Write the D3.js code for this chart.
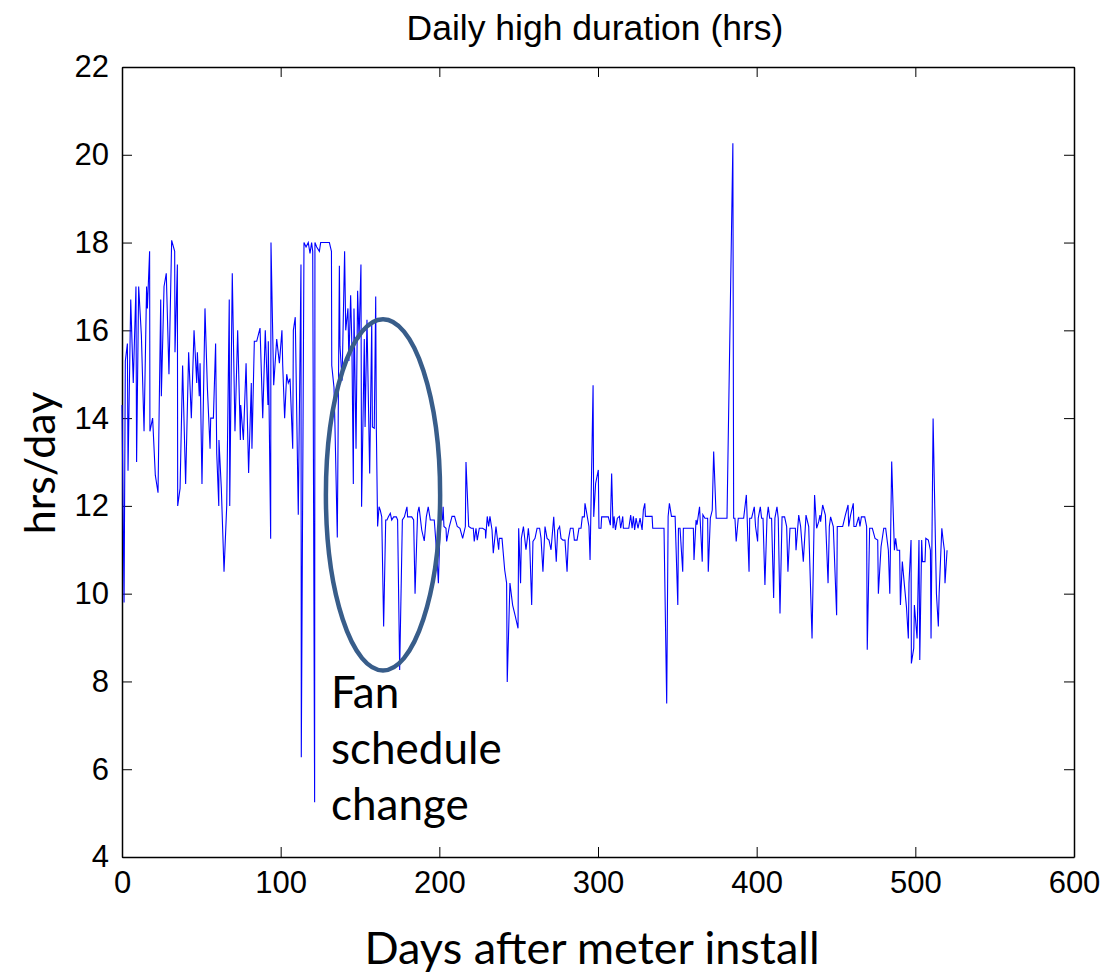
<!DOCTYPE html>
<html>
<head>
<meta charset="utf-8">
<script src="https://cdn.jsdelivr.net/npm/d3@7"></script>
<style>
  html, body { margin: 0; padding: 0; background: #fff; }
  svg { display: block; }
</style>
</head>
<body>
<svg id="chart" width="1107" height="974"></svg>
<script>
// ---- data ----
const days = [
  0,1.3,2.1,3.4,3.8,5.5,7.1,8.8,9.2,10.5,12.2,13.9,15.5,16.0,17.4,17.6,19.3,21.0,22.7,24.4,24.8,26.5,27.9,29.6,31.3,33.2,33.4,34.9,35.1,36.6,38.2,40.1,42.0,43.7,45.4,47.1,47.5,48.7,49.2,50.4,52.3,53.8,55.5,55.9,57.6,59.0,59.7,61.0,61.1,62.6,64.3,66.0,67.6,67.9,69.5,71.2,72.9,74.6,74.8,76.5,78.2,79.8,81.5,81.9,83.4,84.9,87.0,88.7,90.3,92.0,92.2,93.7,93.9,95.6,97.5,99.2,100.8,
  101.3,102.5,103.8,104.8,105.9,107.6,108.0,109.2,111.1,112.8,113.0,114.7,116.0,117.4,118.5,119.5,120.2,121.4,121.6,122.7,124.4,125.2,126.9,129.0,130.7,132.0,132.2,133.6,134.2,135.7,137.0,137.4,138.7,140.3,141.0,142.4,143.0,144.1,144.9,145.8,146.2,147.5,148.5,149.4,150.6,151.0,152.3,152.7,153.2,154.4,156.1,157.4,157.8,159.0,159.9,160.3,161.1,162.0,162.8,163.7,164.9,166.2,167.0,167.9,169.1,170.0,171.2,172.9,173.7,175.0,176.7,178.0,179.6,180.0,182.6,183.8,184.7,186.3,187.2,188.9,190.5,191.8,193.0,194.3,196.8,198.5,199.4,200.6,201.9,
  202.4,202.9,204.2,204.6,206.3,208.0,209.6,211.3,213.0,214.7,216.4,216.8,218.5,220.1,221.4,222.0,223.1,223.9,225.2,227.3,229.0,229.2,230.2,231.1,231.9,233.2,234.0,235.7,237.4,237.8,239.5,241.2,242.4,242.8,244.5,246.2,247.9,249.6,250.0,251.2,251.7,253.0,254.6,255.5,256.1,256.9,258.2,259.0,260.3,261.6,263.2,264.1,265.3,266.6,267.9,269.1,270.4,272.1,273.7,274.6,275.8,276.7,277.9,279.2,280.5,281.3,282.6,284.3,285.1,286.8,288.0,289.3,290.1,291.4,291.8,293.1,294.3,295.0,296.9,297.3,298.5,300.2,300.6,301.9,302.3,305.3,306.5,307.8,308.6,
  309.5,310.1,311.0,312.2,313.5,314.3,315.6,316.0,317.7,319.4,320.6,321.5,322.3,323.1,324.0,325.2,326.5,327.8,328.6,329.5,329.9,332.0,334.1,334.5,337.0,339.5,341.6,343.3,344.2,345.0,346.3,348.6,350.3,350.7,351.7,353.4,353.8,356.0,358.0,360.1,360.5,361.8,362.4,364.0,365.7,366.1,367.4,369.1,369.5,370.8,372.0,372.9,374.5,376.2,377.9,381.3,385.0,385.5,386.3,387.1,388.4,390.1,391.8,393.5,395.2,395.6,396.8,398.5,399.3,400.6,401.0,402.3,403.1,404.0,405.2,406.5,407.3,408.2,409.4,410.7,411.5,412.8,413.6,414.7,
  416.0,417.6,418.9,419.7,421.0,422.7,424.4,424.8,426.5,427.7,429.4,431.1,432.8,434.9,436.5,437.8,439.1,439.9,440.3,441.6,443.3,445.0,445.8,446.6,448.3,450.4,450.8,452.5,454.2,455.9,457.6,458.0,459.2,460.9,461.3,462.6,464.3,465.1,466.0,468.1,469.3,469.7,471.2,472.9,474.6,476.3,476.7,478.4,480.1,481.3,483.0,483.9,485.1,486.8,487.6,488.5,490.1,490.6,491.8,493.1,494.4,495.6,496.0,497.3,497.5,499.0,499.4,501.1,502.3,502.8,504.0,504.5,506.1,506.6,508.2,509.5,509.9,511.2,512.9,513.3,514.5,515.0,516.7,517.5,518.3,518.7,520.0
];
const hours = [
  14.3,9.8,15.3,15.7,12.8,16.7,14.8,17.0,13.0,17.0,15.9,13.7,17.0,16.5,17.8,13.7,14.0,12.7,12.3,16.7,14.5,17.0,17.3,15.0,18.05,17.8,15.5,17.5,12.0,12.4,15.2,12.5,15.5,14.0,16.0,14.8,15.5,14.5,15.25,12.5,16.5,14.7,13.3,14.0,14.0,15.7,13.2,12.0,13.5,12.4,10.5,12.0,16.7,12.0,17.3,13.7,16.0,13.5,14.3,13.5,15.25,12.75,14.8,13.3,15.75,15.75,16.05,14.0,16.0,14.3,15.75,11.25,18.0,14.75,15.8,15.25,16.0,
  15.2,14.0,15.0,14.8,14.9,13.3,16.0,16.3,11.8,17.5,6.27,18.0,17.9,18.0,17.75,18.0,17.8,5.25,18.0,17.9,17.8,18.0,18.0,18.0,18.0,17.8,15.2,14.7,13.85,11.28,17.47,15.64,14.85,17.8,16.0,16.5,15.3,16.8,15.64,12.5,16.5,13.3,16.9,15.8,17.5,11.98,14.87,15.8,13.8,16.24,12.74,16.2,13.8,13.77,16.77,13.77,11.53,11.98,11.9,11.75,9.25,11.68,11.68,11.75,11.83,11.68,11.75,11.75,11.68,8.26,11.68,11.75,11.98,11.75,11.75,11.68,10.0,11.83,11.98,11.45,11.2,11.75,11.98,11.68,11.68,10.85,10.24,11.68,11.68,
  11.98,11.53,11.49,11.19,11.53,11.76,11.76,11.53,11.49,11.26,11.53,13.0,11.53,11.49,11.49,11.19,11.49,11.22,11.49,11.49,11.45,11.26,11.76,11.53,11.76,11.45,10.92,11.53,11.0,11.26,11.26,10.54,10.24,7.99,10.24,9.74,9.48,9.21,11.49,10.24,11.26,11.53,11.0,11.26,11.49,11.19,9.74,11.19,11.26,11.49,11.49,11.26,10.5,11.53,11.26,11.22,11.0,11.75,10.73,11.45,11.53,11.26,11.22,11.22,10.5,11.22,11.49,11.49,11.22,11.22,11.49,11.49,11.75,11.75,12.06,11.79,11.53,10.77,14.75,11.75,12.51,12.82,11.49,11.49,11.75,11.75,11.75,11.56,12.74,
  11.49,11.76,11.45,11.72,11.76,11.49,11.76,11.49,11.49,11.49,11.79,11.49,11.76,11.45,11.72,11.49,11.72,11.45,11.91,12.06,11.76,11.76,11.76,11.49,11.49,11.49,11.49,7.5,11.76,12.06,11.76,11.76,9.74,11.49,11.49,10.5,11.49,11.49,11.49,11.49,10.77,11.68,11.57,11.98,10.73,11.8,11.72,11.72,10.5,11.72,11.9,13.24,11.72,11.72,11.72,11.72,20.26,11.72,11.72,11.19,11.72,11.72,11.72,12.25,10.5,11.72,11.72,11.98,11.53,11.19,11.72,11.98,11.72,11.72,10.2,11.72,11.98,11.72,11.72,9.9,11.72,11.98,11.72,9.55,
  11.75,11.75,11.53,10.5,11.49,11.49,11.49,10.99,11.79,11.53,10.73,11.79,11.53,8.98,12.25,11.49,11.64,11.79,11.64,12.02,11.79,10.24,11.53,11.75,11.53,9.51,11.53,11.53,11.53,11.79,12.02,11.53,11.79,12.06,11.53,11.53,11.75,11.53,11.75,11.75,11.53,8.72,11.49,11.49,11.26,11.22,10.0,11.07,11.49,11.49,10.99,10.0,13.01,10.99,11.26,10.99,10.99,9.74,10.73,10.2,9.7,8.98,10.24,11.22,8.41,8.76,9.74,8.98,11.22,8.49,11.22,10.73,10.73,11.26,11.22,10.99,8.98,13.99,10.73,10.0,9.25,10.0,11.49,11.22,10.99,10.24,10.99
];
const xTicks = [0, 100, 200, 300, 400, 500, 600];
const yTicks = [4, 6, 8, 10, 12, 14, 16, 18, 20, 22];
const titleText = "Daily high duration (hrs)";
const xLabel = "Days after meter install";
const yLabel = "hrs/day";
const annotationLines = ["Fan", "schedule", "change"];
const annotationEllipse = { day: 164.5, value: 12.25, dDays: 36, dValue: 4.0 };

// ---- layout ----
const svg = d3.select("#chart");
const M = { left: 122, right: 1074, top: 67, bottom: 857 };
const x = d3.scaleLinear().domain([0, 600]).range([M.left, M.right]);
const y = d3.scaleLinear().domain([4, 22]).range([M.bottom, M.top]);

const tickFont = "'Liberation Sans', Arial, sans-serif";
const calFont = "Lato, 'Open Sans', sans-serif";

// frame axes
function styleAxis(g, noText) {
  g.select(".domain").attr("stroke", "#000").attr("stroke-width", 1.5);
  g.selectAll(".tick line").attr("stroke", "#000").attr("stroke-width", 1);
  g.selectAll(".tick text").attr("fill", "#000").style("font-family", tickFont).style("font-size", "31px");
  if (noText) g.selectAll(".tick text").remove();
}

svg.append("g").attr("transform", `translate(0,${M.bottom})`)
  .call(d3.axisBottom(x).tickValues(xTicks).tickSizeInner(-10).tickSizeOuter(0).tickPadding(14).tickFormat(d3.format("d")))
  .call(g => styleAxis(g, false));
svg.append("g").attr("transform", `translate(0,${M.top})`)
  .call(d3.axisTop(x).tickValues(xTicks).tickSizeInner(-10).tickSizeOuter(0))
  .call(g => styleAxis(g, true));
svg.append("g").attr("transform", `translate(${M.left},0)`)
  .call(d3.axisLeft(y).tickValues(yTicks).tickSizeInner(-10).tickSizeOuter(0).tickPadding(13).tickFormat(d3.format("d")))
  .call(g => styleAxis(g, false));
svg.append("g").attr("transform", `translate(${M.right},0)`)
  .call(d3.axisRight(y).tickValues(yTicks).tickSizeInner(-10).tickSizeOuter(0))
  .call(g => styleAxis(g, true));

// data line
const pts = days.map((d, i) => [d, hours[i]]);
svg.append("path")
  .datum(pts)
  .attr("fill", "none")
  .attr("stroke", "#0000ff")
  .attr("stroke-width", 1.1)
  .attr("stroke-linejoin", "miter")
  .attr("d", d3.line().x(d => x(d[0])).y(d => y(d[1])));

// title
svg.append("text")
  .attr("x", 595).attr("y", 40)
  .attr("text-anchor", "middle")
  .style("font-family", tickFont).style("font-size", "35.5px")
  .text(titleText);

// axis labels
svg.append("text")
  .attr("x", 592).attr("y", 964)
  .attr("text-anchor", "middle")
  .style("font-family", calFont).style("font-size", "45px")
  .text(xLabel);
svg.append("text")
  .attr("transform", "translate(55,463) rotate(-90)")
  .attr("text-anchor", "middle")
  .style("font-family", calFont).style("font-size", "43px")
  .text(yLabel);

// annotation ellipse
const e = annotationEllipse;
svg.append("ellipse")
  .attr("cx", x(e.day)).attr("cy", y(e.value))
  .attr("rx", x(e.day + e.dDays) - x(e.day))
  .attr("ry", y(e.value - e.dValue) - y(e.value))
  .attr("fill", "none")
  .attr("stroke", "#385D8A")
  .attr("stroke-width", 4.5);

// annotation text
const ann = svg.append("text")
  .style("font-family", calFont).style("font-size", "44px").attr("fill", "#000");
annotationLines.forEach((t, i) => {
  ann.append("tspan").attr("x", 331).attr("y", 708 + i * 56).text(t);
});
</script>
</body>
</html>
